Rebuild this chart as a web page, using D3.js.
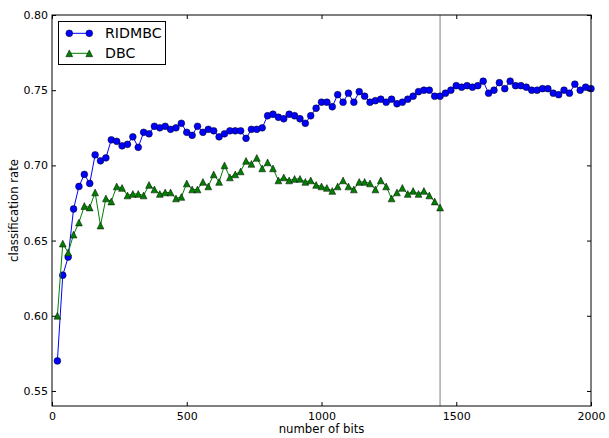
<!DOCTYPE html>
<html>
<head>
<meta charset="utf-8">
<script src="https://cdn.jsdelivr.net/npm/d3@7"></script>
<style>
  body { margin: 0; background: #fff; }
  svg { display: block; font-family: "DejaVu Sans", sans-serif; }
</style>
</head>
<body>
<svg width="609" height="438"></svg>
<script>
// number of bits, sampled every 20
const bits = d3.range(20, 2001, 20);

const ridmbc = [
  0.570, 0.627, 0.639, 0.671, 0.686, 0.694, 0.688, 0.707, 0.703, 0.705,
  0.717, 0.716, 0.713, 0.714, 0.719, 0.712, 0.722, 0.721, 0.726, 0.725,
  0.726, 0.724, 0.725, 0.728, 0.722, 0.720, 0.726, 0.722, 0.724, 0.723,
  0.719, 0.721, 0.723, 0.723, 0.723, 0.718, 0.724, 0.724, 0.725, 0.733,
  0.734, 0.732, 0.731, 0.734, 0.733, 0.731, 0.728, 0.733, 0.738, 0.742,
  0.742, 0.739, 0.747, 0.742, 0.748, 0.742, 0.749, 0.746, 0.742, 0.743,
  0.744, 0.742, 0.744, 0.741, 0.742, 0.744, 0.746, 0.749, 0.750, 0.750,
  0.746, 0.746, 0.748, 0.750, 0.753, 0.752, 0.753, 0.752, 0.753, 0.756,
  0.748, 0.750, 0.755, 0.751, 0.756, 0.753, 0.753, 0.752, 0.750, 0.750,
  0.751, 0.751, 0.748, 0.747, 0.750, 0.748, 0.754, 0.750, 0.752, 0.751
];

const dbc = [
  0.600, 0.648, 0.642, 0.654, 0.662, 0.673, 0.672, 0.682, 0.660, 0.678,
  0.676, 0.686, 0.685, 0.680, 0.681, 0.681, 0.680, 0.687, 0.684, 0.681,
  0.682, 0.682, 0.678, 0.679, 0.688, 0.684, 0.684, 0.689, 0.686, 0.694,
  0.689, 0.700, 0.692, 0.694, 0.696, 0.703, 0.701, 0.705, 0.698, 0.702,
  0.698, 0.690, 0.692, 0.690, 0.691, 0.691, 0.689, 0.690, 0.687, 0.686,
  0.685, 0.683, 0.686, 0.690, 0.686, 0.684, 0.689, 0.689, 0.688, 0.684,
  0.690, 0.686, 0.678, 0.682, 0.685, 0.681, 0.683, 0.681, 0.683, 0.680,
  0.676, 0.672
];

const xTicks = [0, 500, 1000, 1500, 2000];
const yTicks = [0.55, 0.60, 0.65, 0.70, 0.75, 0.80];
const markerLine = 1440;

const svg = d3.select("svg");
const mLeft = 52, mRight = 591, mTop = 15, mBottom = 406;

const x = d3.scaleLinear().domain([0, 2000]).range([mLeft, mRight]);
const y = d3.scaleLinear().domain([0.54, 0.80]).range([mBottom, mTop]);

// vertical reference line
svg.append("line")
  .attr("x1", x(markerLine)).attr("x2", x(markerLine))
  .attr("y1", mTop).attr("y2", mBottom)
  .attr("stroke", "#aaaaaa")
  .attr("stroke-width", 1.5);

const series = [
  { name: "RIDMBC", values: ridmbc, color: "#0000ff", shape: "circle" },
  { name: "DBC", values: dbc, color: "#008000", shape: "triangle" }
];

const line = d3.line()
  .x((d, i) => x(bits[i]))
  .y(d => y(d));

const tri = "M0,-3.4L3.4,3.4L-3.4,3.4Z";

function drawMarker(g, s, cx, cy) {
  if (s.shape === "circle") {
    g.append("circle")
      .attr("cx", cx).attr("cy", cy).attr("r", 3.4)
      .attr("fill", s.color)
      .attr("stroke", "#000").attr("stroke-width", 0.5);
  } else {
    g.append("path")
      .attr("d", tri)
      .attr("transform", `translate(${cx},${cy})`)
      .attr("fill", s.color)
      .attr("stroke", "#000").attr("stroke-width", 0.5);
  }
}

series.forEach(s => {
  const g = svg.append("g");
  g.append("path")
    .attr("d", line(s.values))
    .attr("fill", "none")
    .attr("stroke", s.color)
    .attr("stroke-width", 1);
  s.values.forEach((v, i) => drawMarker(g, s, x(bits[i]), y(v)));
});

// axes, ticks pointing inward on all four sides
const axB = svg.append("g").attr("transform", `translate(0,${mBottom})`)
  .call(d3.axisBottom(x).tickValues(xTicks).tickFormat(d3.format("d"))
    .tickSizeInner(-4).tickSizeOuter(0).tickPadding(6));
const axT = svg.append("g").attr("transform", `translate(0,${mTop})`)
  .call(d3.axisTop(x).tickValues(xTicks).tickFormat("")
    .tickSizeInner(-4).tickSizeOuter(0));
const axL = svg.append("g").attr("transform", `translate(${mLeft},0)`)
  .call(d3.axisLeft(y).tickValues(yTicks).tickFormat(d3.format(".2f"))
    .tickSizeInner(-4).tickSizeOuter(0).tickPadding(4));
const axR = svg.append("g").attr("transform", `translate(${mRight},0)`)
  .call(d3.axisRight(y).tickValues(yTicks).tickFormat("")
    .tickSizeInner(-4).tickSizeOuter(0));

[axB, axT, axL, axR].forEach(a => {
  a.select(".domain").remove();
  a.selectAll("line").attr("stroke", "#000");
  a.selectAll("text").attr("font-size", 11).attr("fill", "#000")
    .attr("font-family", "DejaVu Sans, sans-serif");
});

svg.append("rect")
  .attr("x", mLeft).attr("y", mTop)
  .attr("width", mRight - mLeft).attr("height", mBottom - mTop)
  .attr("fill", "none").attr("stroke", "#000").attr("stroke-width", 1);

// axis labels
svg.append("text")
  .attr("x", (mLeft + mRight) / 2).attr("y", 433)
  .attr("text-anchor", "middle")
  .attr("font-size", 11.7)
  .text("number of bits");

svg.append("text")
  .attr("transform", `translate(18,${(mTop + mBottom) / 2}) rotate(-90)`)
  .attr("text-anchor", "middle")
  .attr("font-size", 11.7)
  .text("classification rate");

// legend
const lg = svg.append("g");
lg.append("rect")
  .attr("x", 58.5).attr("y", 21.5).attr("width", 107).attr("height", 43)
  .attr("fill", "#fff").attr("stroke", "#000").attr("stroke-width", 1);

series.forEach((s, i) => {
  const ly = 33.3 + i * 20;
  lg.append("line")
    .attr("x1", 69.3).attr("x2", 89.3).attr("y1", ly).attr("y2", ly)
    .attr("stroke", s.color).attr("stroke-width", 1);
  drawMarker(lg, s, 69.3, ly);
  drawMarker(lg, s, 89.3, ly);
  lg.append("text")
    .attr("x", 105).attr("y", ly).attr("dy", "0.36em")
    .attr("font-size", 14.2)
    .text(s.name);
});
</script>
</body>
</html>
